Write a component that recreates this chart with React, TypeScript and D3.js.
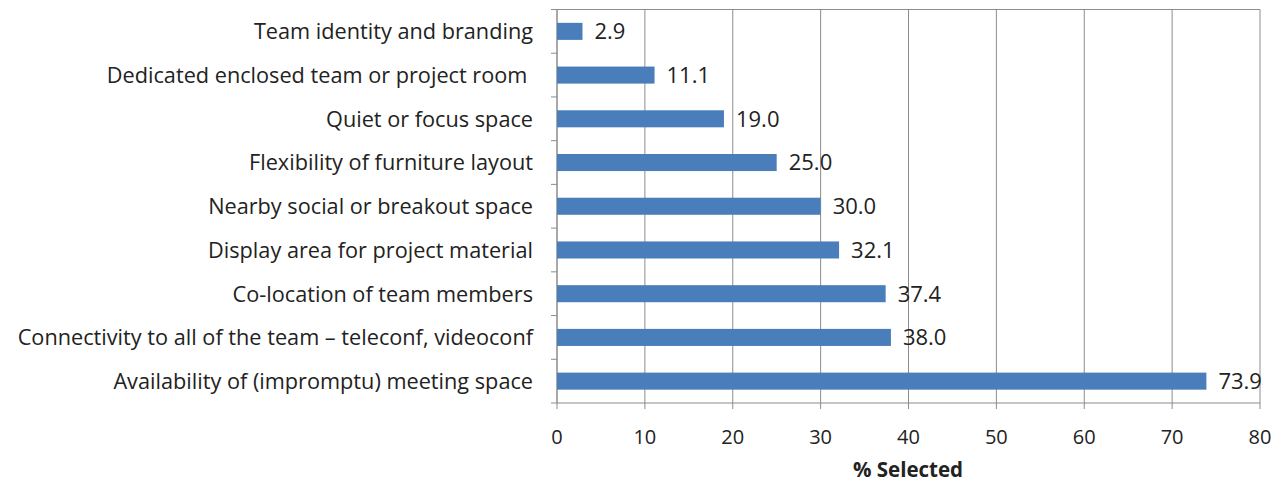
import React from "react";
import * as d3 from "d3";

const categories = [
  "Team identity and branding",
  "Dedicated enclosed team or project room ",
  "Quiet or focus space",
  "Flexibility of furniture layout",
  "Nearby social or breakout space",
  "Display area for project material",
  "Co-location of team members",
  "Connectivity to all of the team \u2013 teleconf, videoconf",
  "Availability of (impromptu) meeting space",
];
const values = [2.9, 11.1, 19.0, 25.0, 30.0, 32.1, 37.4, 38.0, 73.9];
const xTicks = [0, 10, 20, 30, 40, 50, 60, 70, 80];
const xTitle = "% Selected";

export default function App() {
  const W = 1283, H = 485;
  const left = 557, right = 1260, top = 9.5, bottom = 403;
  const x = d3.scaleLinear().domain([0, 80]).range([left, right]);
  const y = d3.scaleBand<string>().domain(categories).range([top, bottom]).paddingInner(0.61).paddingOuter(0.305);
  const step = y.step();
  const font = "'Open Sans', sans-serif";
  const grid = "#8c8c8c";
  return (
    <svg width={W} height={H} style={{ position: "absolute", left: 0, top: 0, background: "#fff" }}>
      {xTicks.map((t) => (
        <line key={"g" + t} x1={x(t)} x2={x(t)} y1={top} y2={bottom + 6} stroke={grid} strokeWidth={1} />
      ))}
      <line x1={left} x2={right} y1={top} y2={top} stroke={grid} />
      <line x1={left} x2={right} y1={bottom} y2={bottom} stroke={grid} />
      <line x1={left} x2={left} y1={top} y2={bottom} stroke={grid} />
      {categories.map((c, i) => (
        <line key={"yt" + i} x1={left - 6} x2={left} y1={top + step * (i + 1)} y2={top + step * (i + 1)} stroke={grid} />
      ))}
      <line x1={left - 6} x2={left} y1={top} y2={top} stroke={grid} />
      {categories.map((c, i) => (
        <rect key={"b" + i} x={x(0)} y={y(c)!} width={x(values[i]) - x(0)} height={y.bandwidth()} fill="#4A7EBB" />
      ))}
      {categories.map((c, i) => (
        <text key={"v" + i} x={x(values[i]) + 12} y={y(c)! + y.bandwidth() / 2} dy="0.36em" fontFamily={font} fontSize={22} fill="#222">
          {values[i].toFixed(1)}
        </text>
      ))}
      {categories.map((c, i) => (
        <text key={"l" + i} x={533} y={y(c)! + y.bandwidth() / 2} dy="0.36em" textAnchor="end" fontFamily={font} fontSize={21.7} fill="#222" style={{ whiteSpace: "pre" }}>
          {c}
        </text>
      ))}
      {xTicks.map((t) => (
        <text key={"xt" + t} x={x(t)} y={437} dy="0.36em" textAnchor="middle" fontFamily={font} fontSize={20} fill="#222">
          {t}
        </text>
      ))}
      <text x={908} y={470} dy="0.36em" textAnchor="middle" fontFamily={font} fontSize={20.5} fontWeight="bold" fill="#222">
        {xTitle}
      </text>
    </svg>
  );
}
